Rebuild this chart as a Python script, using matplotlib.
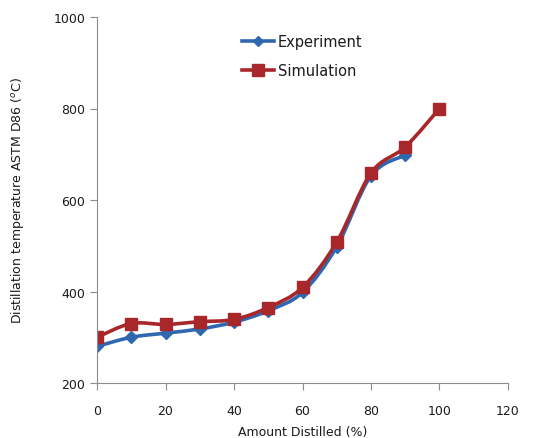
import numpy as np
import matplotlib
matplotlib.use("Agg")
import matplotlib.pyplot as plt
from matplotlib.path import Path
from matplotlib.patches import PathPatch

# amount distilled (%) and D86 temperatures
exp_x = [0, 10, 20, 30, 40, 50, 60, 70, 80, 90]
exp_t = [280, 300, 309, 318, 333, 358, 398, 498, 653, 698]
sim_x = [0, 10, 20, 30, 40, 50, 60, 70, 80, 90, 100]
sim_t = [300, 330, 328, 334, 339, 365, 409, 508, 659, 716, 800]

BLUE, RED, AXC, TXT = "#2F68B0", "#A8272B", "#8C8C8C", "#1A1A1A"


def smooth_path(x, y, k=0.5 / 3):
    # Excel-style smoothed line as cubic bezier segments through the points
    x = np.asarray(x, float); y = np.asarray(y, float)
    verts = [(x[0], y[0])]; codes = [Path.MOVETO]
    n = len(x)
    for i in range(n - 1):
        x0, y0 = (x[i - 1], y[i - 1]) if i > 0 else (x[i], y[i])
        x3, y3 = (x[i + 2], y[i + 2]) if i + 2 < n else (x[i + 1], y[i + 1])
        c1 = (x[i] + k * (x[i + 1] - x0), y[i] + k * (y[i + 1] - y0))
        c2 = (x[i + 1] - k * (x3 - x[i]), y[i + 1] - k * (y3 - y[i]))
        verts += [c1, c2, (x[i + 1], y[i + 1])]
        codes += [Path.CURVE4] * 3
    return Path(verts, codes)


fig = plt.figure(figsize=(5.41, 4.39), dpi=100)
ax = fig.add_axes([97 / 541, 1 - 384 / 439, (508 - 97) / 541, (384 - 18) / 439])

for x, t, c in [(exp_x, exp_t, BLUE), (sim_x, sim_t, RED)]:
    ax.add_patch(PathPatch(smooth_path(x, t), fill=False, ec=c, lw=2.6,
                           capstyle="round", joinstyle="round"))
ax.plot(exp_x, exp_t, ls="none", marker="D", ms=6, color=BLUE)
ax.plot(sim_x, sim_t, ls="none", marker="s", ms=9, color=RED)

# legend handles
ax.plot([], [], color=BLUE, lw=2.6, marker="D", ms=5, label="Experiment")
ax.plot([], [], color=RED, lw=2.6, marker="s", ms=8, label="Simulation")
ax.legend(loc="upper left", bbox_to_anchor=(0.32, 0.99), frameon=False,
          fontsize=10.5, handlelength=2.2, handletextpad=0.3, labelspacing=1.0,
          labelcolor=TXT)

ax.set_xlim(0, 120); ax.set_ylim(200, 1000)
ax.set_xticks(range(0, 121, 20)); ax.set_yticks(range(200, 1001, 200))
ax.spines[["top", "right"]].set_visible(False)
for s in ["left", "bottom"]:
    ax.spines[s].set_color(AXC)
ax.tick_params(colors=AXC, labelcolor=TXT, labelsize=9, length=5, direction="out")
ax.tick_params(axis="x", pad=10)
ax.set_xlabel("Amount Distilled (%)", fontsize=9, color=TXT, labelpad=6)
ax.set_ylabel("Distillation temperature ASTM D86 ($^{o}$C)", fontsize=9,
              color=TXT, labelpad=20)

fig.savefig("out.png", dpi=100)
